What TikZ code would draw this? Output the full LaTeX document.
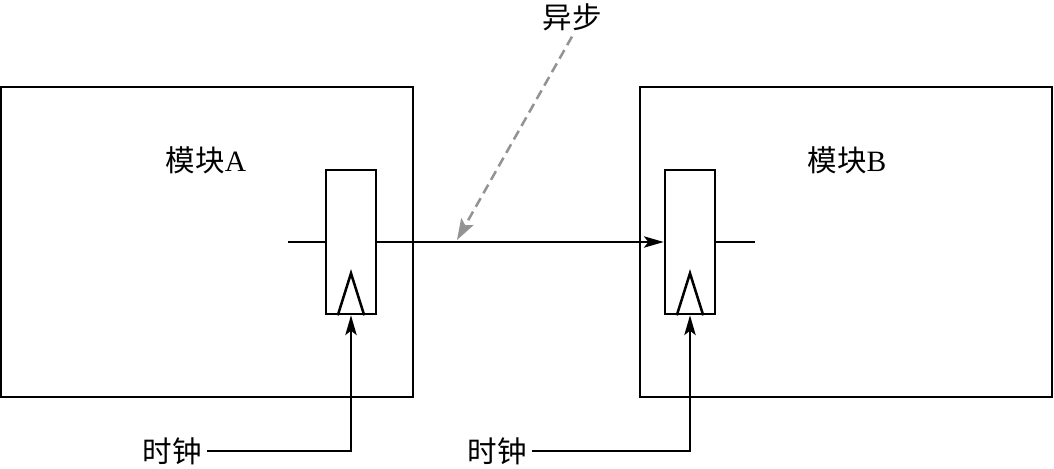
\documentclass[tikz,border=0pt]{standalone}
\usepackage{fontspec}
\setmainfont{Liberation Serif}
\newfontfamily\cjk{Noto Sans CJK SC}
\usetikzlibrary{arrows.meta}

\tikzset{
  module/.style={draw,minimum width=10.3cm,minimum height=7.75cm},
  ffbox/.style={draw,minimum width=1.25cm,minimum height=3.6cm},
  sig/.style={-{Stealth[length=14pt,width=8pt,inset=3pt]}},
  note/.style={gray!85,dashed,dash pattern=on 7pt off 4pt,-{Stealth[length=15pt,width=10pt,inset=3pt]}}
}

\begin{document}
\begin{tikzpicture}[x=0.025cm,y=-0.025cm,line width=1.8pt,font=\fontsize{21}{23}\selectfont]
    \useasboundingbox (0,0) rectangle (1054,468);
    % the two modules
    \node[module] (modA) at (207,242) {};
    \node[module] (modB) at (846,242) {};
    \node (labA) at (206,160) {\cjk 模块\rmfamily A};
    \node (labB) at (847,160) {\cjk 模块\rmfamily B};
    % flip-flops
    \node[ffbox] (ffA) at (351,242) {};
    \node[ffbox] (ffB) at (690,242) {};
    \draw ([xshift=-0.33cm]ffA.south) -- ([yshift=1.05cm]ffA.south) -- ([xshift=0.33cm]ffA.south);
    \draw ([xshift=-0.33cm]ffB.south) -- ([yshift=1.05cm]ffB.south) -- ([xshift=0.33cm]ffB.south);
    \coordinate (inA) at (288,242);
    \coordinate (outB) at (755,242);
    \draw (inA) -- (ffA.west);
    \draw[sig] (ffA.east) -- (ffB.west);
    \draw (ffB.east) -- (outB);
    % clocks
    \node[inner ysep=1pt] (clkA) at (172,451) {\cjk 时钟};
    \node[inner ysep=1pt] (clkB) at (497,451) {\cjk 时钟};
    \draw[sig] (clkA.east) -| (ffA.south);
    \draw[sig] (clkB.east) -| (ffB.south);
    % asynchronous crossing
    \node (async) at (572,17) {\cjk 异步};
    \coordinate (cross) at (457,240);
    \draw[note] (async.south) -- (cross);
\end{tikzpicture}
\end{document}
